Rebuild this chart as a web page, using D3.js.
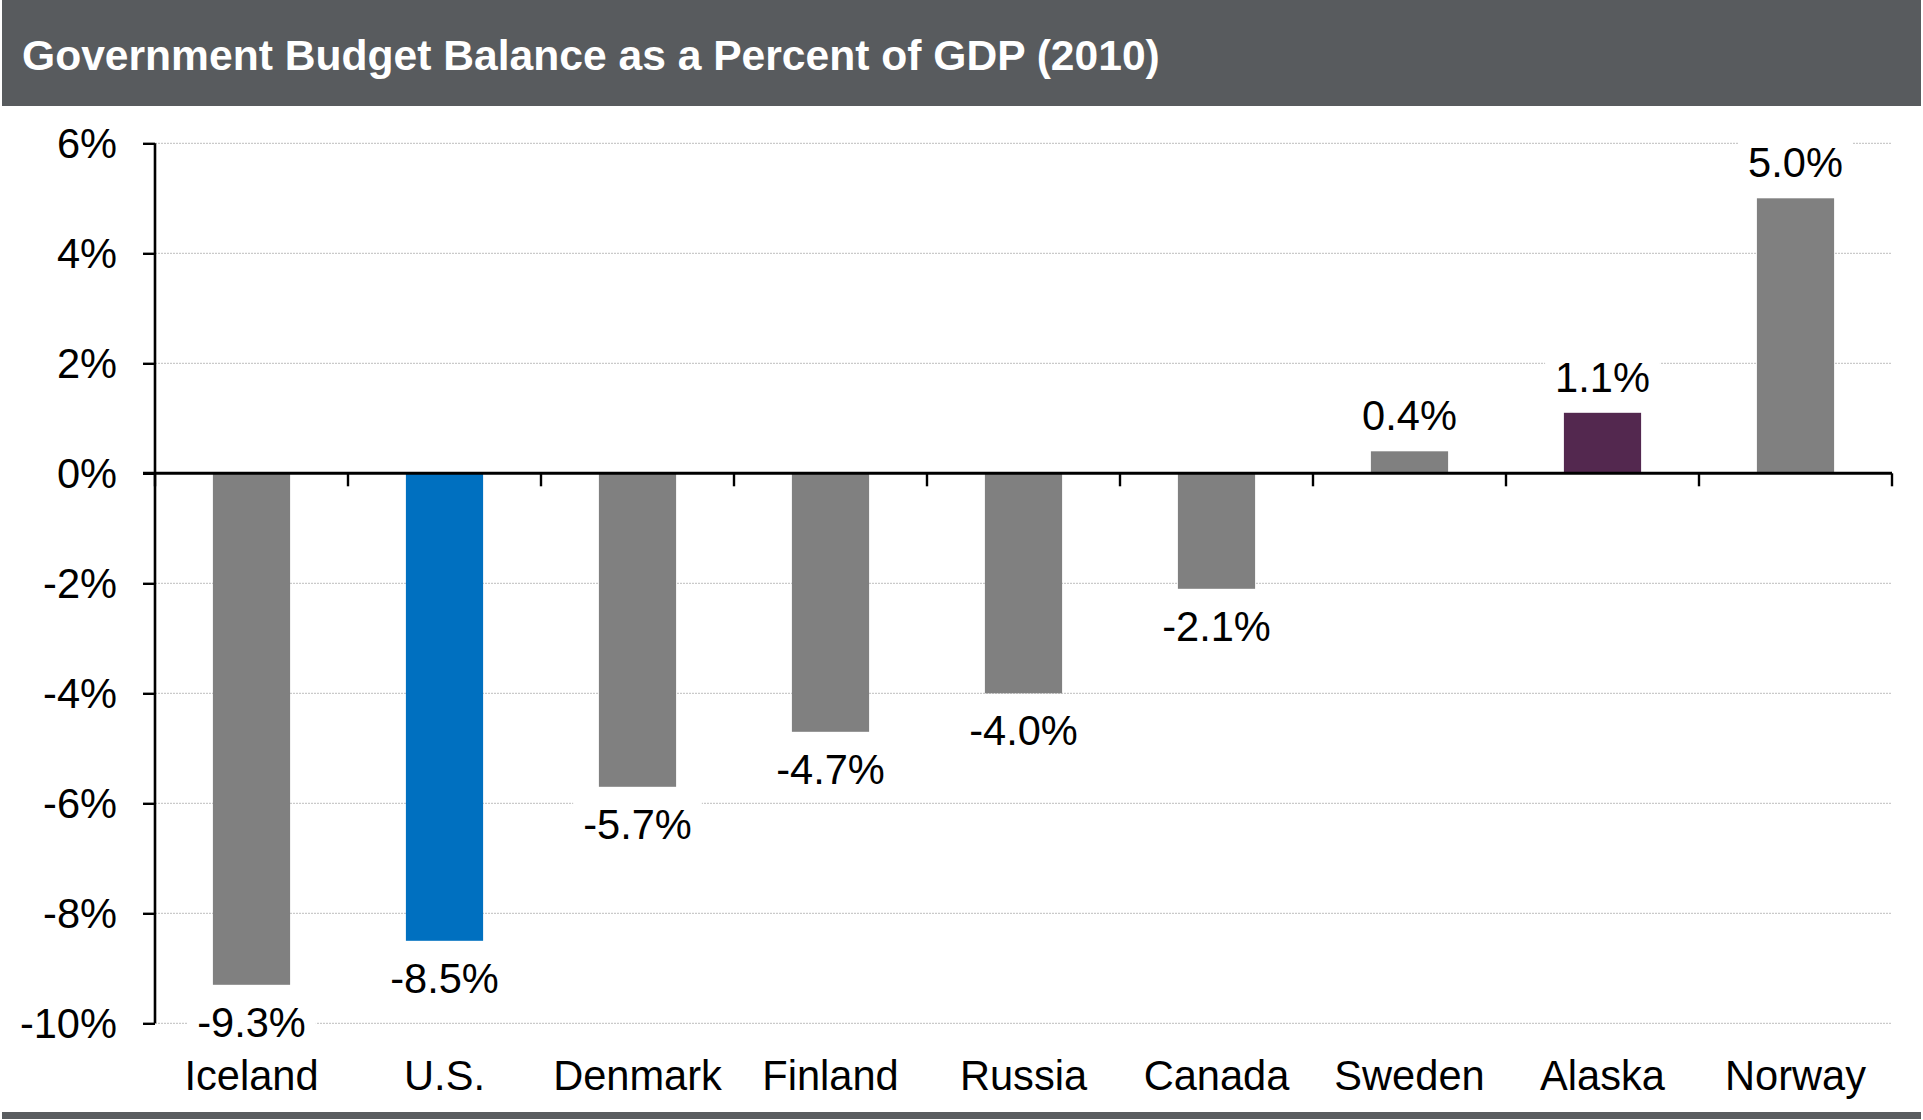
<!DOCTYPE html>
<html>
<head>
<meta charset="utf-8">
<script src="https://cdn.jsdelivr.net/npm/d3@7"></script>
<style>
  html, body { margin: 0; padding: 0; background: #ffffff; }
  svg { display: block; font-family: "Liberation Sans", Arial, Helvetica, sans-serif; }
</style>
</head>
<body>
<svg id="chart" width="1923" height="1120"></svg>
<script>
// ---- data ----
const title = "Government Budget Balance as a Percent of GDP (2010)";
const categories = ["Iceland", "U.S.", "Denmark", "Finland", "Russia", "Canada", "Sweden", "Alaska", "Norway"];
const values = [-9.3, -8.5, -5.7, -4.7, -4.0, -2.1, 0.4, 1.1, 5.0];
const tickValues = [-10, -8, -6, -4, -2, 0, 2, 4, 6];
const tickLabels = ["-10%", "-8%", "-6%", "-4%", "-2%", "0%", "2%", "4%", "6%"];
const highlight = { "U.S.": "#0070c0", "Alaska": "#53284f" };
const baseColor = "#808080";

// ---- layout ----
const W = 1923, H = 1120;
const plotLeft = 155, plotRight = 1892, plotTop = 143.3, plotBottom = 1023.3;
const fontSize = 41.6;

const svg = d3.select("#chart");

// Header bar
svg.append("rect").attr("x", 2).attr("y", 0).attr("width", W - 4).attr("height", 106).attr("fill", "#585b5e");
svg.append("text").attr("x", 22).attr("y", 70)
  .attr("fill", "#ffffff").attr("font-weight", "bold").attr("font-size", 42.6)
  .text(title);

// Footer bar
svg.append("rect").attr("x", 2).attr("y", 1112).attr("width", W - 4).attr("height", 7).attr("fill", "#5a5d60");

// Scales
const x = d3.scaleBand().domain(categories).range([plotLeft, plotRight]).paddingInner(0.6).paddingOuter(0.3);
const y = d3.scaleLinear().domain([-10, 6]).range([plotBottom, plotTop]);
const step = x.step();

// Gridlines
svg.append("g").selectAll("line").data(tickValues.filter(v => v !== 0)).join("line")
  .attr("x1", plotLeft).attr("x2", plotRight)
  .attr("y1", d => y(d)).attr("y2", d => y(d))
  .attr("stroke", "#bdbdbd").attr("stroke-width", 1).attr("stroke-dasharray", "2,1");

// Bars
svg.append("g").selectAll("rect").data(values).join("rect")
  .attr("x", (d, i) => x(categories[i]))
  .attr("width", x.bandwidth())
  .attr("y", d => y(Math.max(0, d)))
  .attr("height", d => Math.abs(y(d) - y(0)))
  .attr("fill", (d, i) => highlight[categories[i]] || baseColor);

// Y axis
const yAxis = d3.axisLeft(y).tickValues(tickValues)
  .tickFormat((d, i) => tickLabels[i]).tickSize(12).tickPadding(26);
const gy = svg.append("g").attr("transform", `translate(${plotLeft},0)`).call(yAxis);
gy.select(".domain").attr("stroke", "#000").attr("stroke-width", 2.6).attr("d", `M0,${plotTop}V${plotBottom}`);
gy.selectAll(".tick line").attr("stroke", "#000").attr("stroke-width", 2.4);
gy.selectAll(".tick text").attr("font-size", fontSize).attr("fill", "#000")
  .attr("font-family", "Liberation Sans, Arial, sans-serif").attr("dy", "0.35em");

// Zero line with category boundary ticks
const zeroY = y(0);
const gx = svg.append("g");
gx.append("line").attr("x1", plotLeft - 12).attr("x2", plotRight)
  .attr("y1", zeroY).attr("y2", zeroY).attr("stroke", "#000").attr("stroke-width", 3);
const boundaries = d3.range(categories.length + 1).map(k => plotLeft + k * step);
gx.selectAll("line.bt").data(boundaries).join("line").attr("class", "bt")
  .attr("x1", d => d).attr("x2", d => d)
  .attr("y1", zeroY).attr("y2", zeroY + 13)
  .attr("stroke", "#000").attr("stroke-width", 2.4);

// Category labels
svg.append("g").selectAll("text").data(categories).join("text")
  .attr("x", d => x(d) + x.bandwidth() / 2)
  .attr("y", 1090)
  .attr("text-anchor", "middle").attr("font-size", fontSize).attr("fill", "#000")
  .text(d => d);

// Data labels with white background
const lg = svg.append("g");
values.forEach((v, i) => {
  const cx = x(categories[i]) + x.bandwidth() / 2;
  const by = v >= 0 ? y(v) - 21 : y(v) + 52;
  const g = lg.append("g");
  const bg = g.append("rect").attr("fill", "#ffffff");
  const t = g.append("text").attr("x", cx).attr("y", by)
    .attr("text-anchor", "middle").attr("font-size", fontSize).attr("fill", "#000")
    .text(v.toFixed(1) + "%");
  const bb = t.node().getBBox();
  bg.attr("x", bb.x - 10).attr("y", bb.y).attr("width", bb.width + 20).attr("height", bb.height);
});
</script>
</body>
</html>
